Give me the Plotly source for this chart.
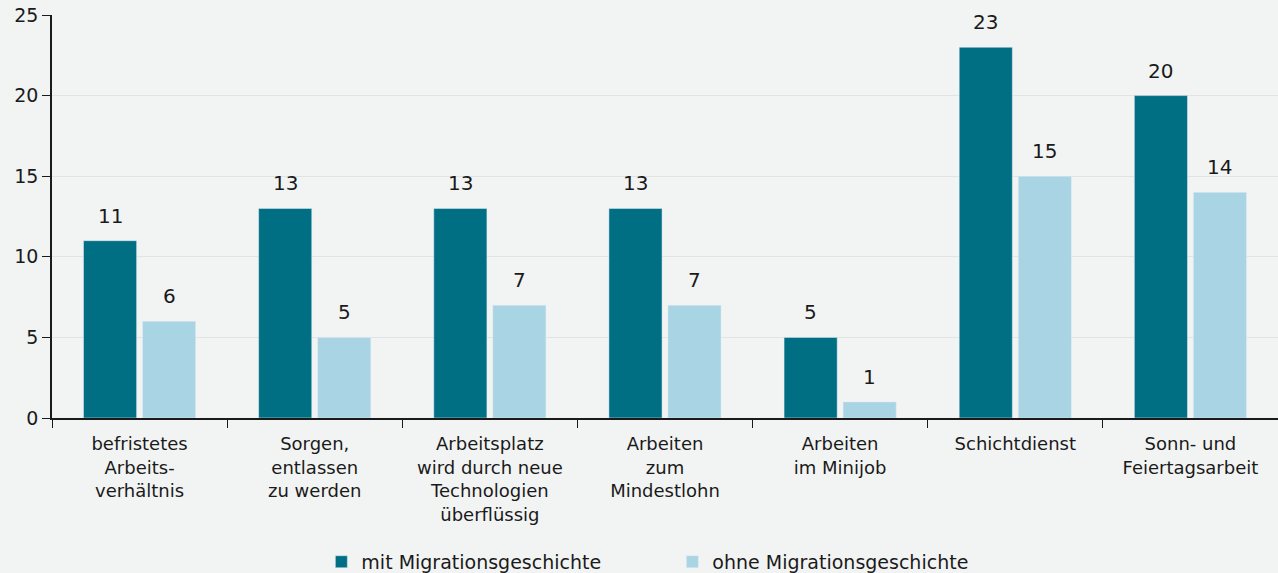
import plotly.graph_objects as go

categories = [
    "befristetes<br>Arbeits-<br>verhältnis",
    "Sorgen,<br>entlassen<br>zu werden",
    "Arbeitsplatz<br>wird durch neue<br>Technologien<br>überflüssig",
    "Arbeiten<br>zum<br>Mindestlohn",
    "Arbeiten<br>im Minijob",
    "Schichtdienst",
    "Sonn- und<br>Feiertagsarbeit",
]
mit = [11, 13, 13, 13, 5, 23, 20]
ohne = [6, 5, 7, 7, 1, 15, 14]
series_names = ["mit Migrationsgeschichte", "ohne Migrationsgeschichte"]
colors = ["#006f84", "#a8d4e3"]

FONT = "DejaVu Sans, sans-serif"
fig = go.Figure()
for name, vals, col in zip(series_names, [mit, ohne], colors):
    fig.add_trace(go.Bar(x=categories, y=vals, name=name, marker_color=col))

# value labels above bars
offsets = [-29.5, 29.5]
for vals, xs in zip([mit, ohne], offsets):
    for c, v in zip(categories, vals):
        fig.add_annotation(x=c, y=v, text=str(v), showarrow=False, xshift=xs,
                           yanchor="bottom", yshift=11,
                           font=dict(size=20, color="#1a1a1a"))

fig.update_layout(
    width=1278, height=573,
    margin=dict(l=52, r=0, t=15, b=155, autoexpand=False),
    paper_bgcolor="#f2f4f3", plot_bgcolor="#f2f4f3",
    font=dict(family=FONT, size=16, color="#1a1a1a"),
    barmode="group", bargap=0.326, bargroupgap=0.1,
    showlegend=True,
    legend=dict(orientation="h", x=0.506, xanchor="center", y=-0.357, yanchor="middle",
                font=dict(size=19), entrywidth=306, traceorder="normal"),
    xaxis=dict(showline=True, linecolor="#1a1a1a", linewidth=1.5, ticks="outside",
               tickson="boundaries", ticklen=8, tickcolor="#1a1a1a",
               ticklabelstandoff=9, tickfont=dict(size=18)),
    yaxis=dict(range=[0, 25], dtick=5, showline=True, linecolor="#1a1a1a", linewidth=1.5,
               ticks="outside", ticklen=8, tickcolor="#1a1a1a", gridcolor="#e2e4e3",
               tickfont=dict(size=19), zeroline=False),
)
fig.write_html("out.html", config={"displayModeBar": False},
               post_script="document.body.style.margin='0';")
